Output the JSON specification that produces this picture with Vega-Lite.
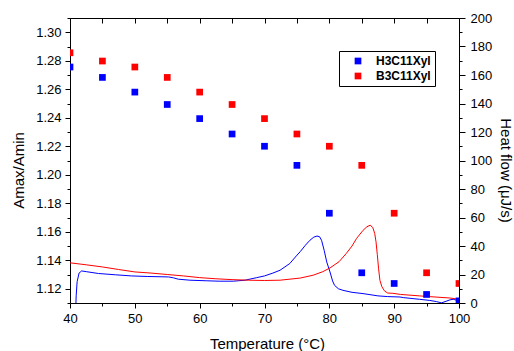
{
  "$schema": "https://vega.github.io/schema/vega-lite/v6.json",
  "width": 389,
  "height": 285,
  "autosize": {"type": "none"},
  "padding": {"left": 70, "top": 18, "right": 55, "bottom": 48},
  "background": "white",
  "datasets": {
    "pts": [
      {"T": 40, "ratio": 1.2756, "sample": "H3C11Xyl"},
      {"T": 45, "ratio": 1.2683, "sample": "H3C11Xyl"},
      {"T": 50, "ratio": 1.2580, "sample": "H3C11Xyl"},
      {"T": 55, "ratio": 1.2493, "sample": "H3C11Xyl"},
      {"T": 60, "ratio": 1.2394, "sample": "H3C11Xyl"},
      {"T": 65, "ratio": 1.2286, "sample": "H3C11Xyl"},
      {"T": 70, "ratio": 1.2200, "sample": "H3C11Xyl"},
      {"T": 75, "ratio": 1.2066, "sample": "H3C11Xyl"},
      {"T": 80, "ratio": 1.1730, "sample": "H3C11Xyl"},
      {"T": 85, "ratio": 1.1312, "sample": "H3C11Xyl"},
      {"T": 90, "ratio": 1.1237, "sample": "H3C11Xyl"},
      {"T": 95, "ratio": 1.1160, "sample": "H3C11Xyl"},
      {"T": 100, "ratio": 1.1115, "sample": "H3C11Xyl"},
      {"T": 40, "ratio": 1.2856, "sample": "B3C11Xyl"},
      {"T": 45, "ratio": 1.2798, "sample": "B3C11Xyl"},
      {"T": 50, "ratio": 1.2756, "sample": "B3C11Xyl"},
      {"T": 55, "ratio": 1.2683, "sample": "B3C11Xyl"},
      {"T": 60, "ratio": 1.2580, "sample": "B3C11Xyl"},
      {"T": 65, "ratio": 1.2493, "sample": "B3C11Xyl"},
      {"T": 70, "ratio": 1.2394, "sample": "B3C11Xyl"},
      {"T": 75, "ratio": 1.2286, "sample": "B3C11Xyl"},
      {"T": 80, "ratio": 1.2200, "sample": "B3C11Xyl"},
      {"T": 85, "ratio": 1.2066, "sample": "B3C11Xyl"},
      {"T": 90, "ratio": 1.1730, "sample": "B3C11Xyl"},
      {"T": 95, "ratio": 1.1312, "sample": "B3C11Xyl"},
      {"T": 100, "ratio": 1.1237, "sample": "B3C11Xyl"}
    ],
    "dsc": [
      {"T": 40.85, "hf": -10, "sample": "H3C11Xyl"},
      {"T": 40.95, "hf": 5, "sample": "H3C11Xyl"},
      {"T": 41.1, "hf": 15, "sample": "H3C11Xyl"},
      {"T": 41.4, "hf": 21, "sample": "H3C11Xyl"},
      {"T": 41.8, "hf": 22.5, "sample": "H3C11Xyl"},
      {"T": 42.5, "hf": 22.0, "sample": "H3C11Xyl"},
      {"T": 44.4, "hf": 20.7, "sample": "H3C11Xyl"},
      {"T": 47, "hf": 19.8, "sample": "H3C11Xyl"},
      {"T": 49.5, "hf": 19.0, "sample": "H3C11Xyl"},
      {"T": 52, "hf": 18.6, "sample": "H3C11Xyl"},
      {"T": 55.2, "hf": 18.3, "sample": "H3C11Xyl"},
      {"T": 56, "hf": 17.6, "sample": "H3C11Xyl"},
      {"T": 56.7, "hf": 16.7, "sample": "H3C11Xyl"},
      {"T": 58.5, "hf": 16.0, "sample": "H3C11Xyl"},
      {"T": 61, "hf": 15.6, "sample": "H3C11Xyl"},
      {"T": 63, "hf": 15.3, "sample": "H3C11Xyl"},
      {"T": 65.2, "hf": 15.3, "sample": "H3C11Xyl"},
      {"T": 67, "hf": 16.0, "sample": "H3C11Xyl"},
      {"T": 68.8, "hf": 17.8, "sample": "H3C11Xyl"},
      {"T": 70, "hf": 19.0, "sample": "H3C11Xyl"},
      {"T": 71.3, "hf": 21.0, "sample": "H3C11Xyl"},
      {"T": 72.4, "hf": 23.0, "sample": "H3C11Xyl"},
      {"T": 73.9, "hf": 27.7, "sample": "H3C11Xyl"},
      {"T": 74.9, "hf": 33.0, "sample": "H3C11Xyl"},
      {"T": 75.5, "hf": 36.0, "sample": "H3C11Xyl"},
      {"T": 76.3, "hf": 40.5, "sample": "H3C11Xyl"},
      {"T": 77, "hf": 44.0, "sample": "H3C11Xyl"},
      {"T": 77.6, "hf": 46.2, "sample": "H3C11Xyl"},
      {"T": 78.1, "hf": 47.0, "sample": "H3C11Xyl"},
      {"T": 78.5, "hf": 46.5, "sample": "H3C11Xyl"},
      {"T": 78.8, "hf": 44.0, "sample": "H3C11Xyl"},
      {"T": 79.2, "hf": 37.0, "sample": "H3C11Xyl"},
      {"T": 79.6, "hf": 28.8, "sample": "H3C11Xyl"},
      {"T": 80.1, "hf": 21.8, "sample": "H3C11Xyl"},
      {"T": 80.5, "hf": 15.5, "sample": "H3C11Xyl"},
      {"T": 80.8, "hf": 12.4, "sample": "H3C11Xyl"},
      {"T": 81.4, "hf": 10.0, "sample": "H3C11Xyl"},
      {"T": 82.1, "hf": 8.9, "sample": "H3C11Xyl"},
      {"T": 83.5, "hf": 7.5, "sample": "H3C11Xyl"},
      {"T": 85.2, "hf": 6.6, "sample": "H3C11Xyl"},
      {"T": 87.5, "hf": 5.0, "sample": "H3C11Xyl"},
      {"T": 89, "hf": 4.5, "sample": "H3C11Xyl"},
      {"T": 90.9, "hf": 4.2, "sample": "H3C11Xyl"},
      {"T": 91.4, "hf": 3.8, "sample": "H3C11Xyl"},
      {"T": 93.9, "hf": 2.6, "sample": "H3C11Xyl"},
      {"T": 95.5, "hf": 1.8, "sample": "H3C11Xyl"},
      {"T": 96.5, "hf": 1.0, "sample": "H3C11Xyl"},
      {"T": 97.3, "hf": 0.1, "sample": "H3C11Xyl"},
      {"T": 98, "hf": 1.2, "sample": "H3C11Xyl"},
      {"T": 98.6, "hf": 2.2, "sample": "H3C11Xyl"},
      {"T": 99.1, "hf": 2.6, "sample": "H3C11Xyl"},
      {"T": 100, "hf": 1.6, "sample": "H3C11Xyl"},
      {"T": 40, "hf": 28.2, "sample": "B3C11Xyl"},
      {"T": 42.5, "hf": 26.8, "sample": "B3C11Xyl"},
      {"T": 45, "hf": 25.3, "sample": "B3C11Xyl"},
      {"T": 47.5, "hf": 23.5, "sample": "B3C11Xyl"},
      {"T": 50, "hf": 21.8, "sample": "B3C11Xyl"},
      {"T": 52.5, "hf": 21.0, "sample": "B3C11Xyl"},
      {"T": 55, "hf": 20.0, "sample": "B3C11Xyl"},
      {"T": 57.5, "hf": 19.0, "sample": "B3C11Xyl"},
      {"T": 60, "hf": 17.8, "sample": "B3C11Xyl"},
      {"T": 62.5, "hf": 17.0, "sample": "B3C11Xyl"},
      {"T": 65, "hf": 16.4, "sample": "B3C11Xyl"},
      {"T": 67.5, "hf": 16.0, "sample": "B3C11Xyl"},
      {"T": 70, "hf": 15.8, "sample": "B3C11Xyl"},
      {"T": 72.4, "hf": 16.0, "sample": "B3C11Xyl"},
      {"T": 75.5, "hf": 17.5, "sample": "B3C11Xyl"},
      {"T": 77.5, "hf": 19.5, "sample": "B3C11Xyl"},
      {"T": 79, "hf": 22.0, "sample": "B3C11Xyl"},
      {"T": 80.1, "hf": 24.6, "sample": "B3C11Xyl"},
      {"T": 81.5, "hf": 29.0, "sample": "B3C11Xyl"},
      {"T": 82.6, "hf": 34.7, "sample": "B3C11Xyl"},
      {"T": 83.5, "hf": 40.0, "sample": "B3C11Xyl"},
      {"T": 84.2, "hf": 45.3, "sample": "B3C11Xyl"},
      {"T": 85.2, "hf": 51.0, "sample": "B3C11Xyl"},
      {"T": 85.8, "hf": 53.5, "sample": "B3C11Xyl"},
      {"T": 86.3, "hf": 54.6, "sample": "B3C11Xyl"},
      {"T": 86.7, "hf": 53.0, "sample": "B3C11Xyl"},
      {"T": 87, "hf": 48.8, "sample": "B3C11Xyl"},
      {"T": 87.2, "hf": 43.0, "sample": "B3C11Xyl"},
      {"T": 87.4, "hf": 34.0, "sample": "B3C11Xyl"},
      {"T": 87.6, "hf": 24.0, "sample": "B3C11Xyl"},
      {"T": 87.8, "hf": 16.0, "sample": "B3C11Xyl"},
      {"T": 88.1, "hf": 11.5, "sample": "B3C11Xyl"},
      {"T": 88.5, "hf": 8.5, "sample": "B3C11Xyl"},
      {"T": 89, "hf": 7.0, "sample": "B3C11Xyl"},
      {"T": 89.8, "hf": 6.8, "sample": "B3C11Xyl"},
      {"T": 91, "hf": 6.0, "sample": "B3C11Xyl"},
      {"T": 93.9, "hf": 5.0, "sample": "B3C11Xyl"},
      {"T": 96, "hf": 4.3, "sample": "B3C11Xyl"},
      {"T": 98.6, "hf": 3.5, "sample": "B3C11Xyl"},
      {"T": 100, "hf": 2.6, "sample": "B3C11Xyl"}
    ]
  },
  "layer": [
    {
      "data": {"name": "dsc"},
      "mark": {"type": "line", "clip": true, "strokeWidth": 1},
      "encoding": {
        "x": {
          "field": "T", "type": "quantitative",
          "scale": {"domain": [40, 100], "nice": false, "zero": false},
          "axis": {
            "orient": "top", "title": null, "labels": false,
            "values": [40, 45, 50, 55, 60, 65, 70, 75, 80, 85, 90, 95, 100],
            "tickSize": -5
          }
        },
        "y": {
          "field": "hf", "type": "quantitative",
          "scale": {"domain": [0, 200], "nice": false, "zero": false},
          "axis": {
            "orient": "right", "title": "Heat flow (μJ/s)",
            "values": [0, 10, 20, 30, 40, 50, 60, 70, 80, 90, 100, 110, 120, 130, 140, 150, 160, 170, 180, 190, 200],
            "labelExpr": "round(datum.value) % 20 == 0 ? format(datum.value, 'd') : ''",
            "tickSize": {"condition": {"test": "round(datum.value) % 20 == 0", "value": 6}, "value": 3},
            "labelPadding": 5,
            "titleX": 41, "titleY": 152, "titleBaseline": "alphabetic", "titleAngle": 90
          }
        },
        "detail": {"field": "sample"},
        "stroke": {
          "field": "sample", "type": "nominal",
          "scale": {"domain": ["H3C11Xyl", "B3C11Xyl"], "range": ["#0000ff", "#ff0000"]},
          "legend": null
        }
      }
    },
    {
      "data": {"name": "pts"},
      "mark": {"type": "square", "clip": true, "filled": true, "opacity": 1, "size": 45},
      "encoding": {
        "x": {
          "field": "T", "type": "quantitative",
          "scale": {"domain": [40, 100], "nice": false, "zero": false},
          "axis": {
            "orient": "bottom", "title": "Temperature (°C)",
            "values": [40, 45, 50, 55, 60, 65, 70, 75, 80, 85, 90, 95, 100],
            "labelExpr": "round(datum.value) % 10 == 0 ? format(datum.value, 'd') : ''",
            "tickSize": {"condition": {"test": "round(datum.value) % 10 == 0", "value": 5}, "value": 3},
            "labelPadding": 4, "labelFlush": false,
            "titleX": 197, "titleY": 45, "titleBaseline": "alphabetic"
          }
        },
        "y": {
          "field": "ratio", "type": "quantitative",
          "scale": {"domain": [1.11, 1.31], "nice": false, "zero": false},
          "axis": {
            "orient": "left", "title": "Amax/Amin",
            "values": [1.11, 1.12, 1.13, 1.14, 1.15, 1.16, 1.17, 1.18, 1.19, 1.2, 1.21, 1.22, 1.23, 1.24, 1.25, 1.26, 1.27, 1.28, 1.29, 1.3, 1.31],
            "labelExpr": "round(datum.value * 100) % 2 == 0 && datum.value < 1.305 ? format(datum.value, '.2f') : ''",
            "tickSize": {"condition": {"test": "round(datum.value * 100) % 2 == 0", "value": 5}, "value": 3},
            "labelPadding": 4,
            "titleX": -47, "titleY": 152, "titleBaseline": "alphabetic", "titleAngle": -90
          }
        },
        "color": {
          "field": "sample", "type": "nominal",
          "scale": {"domain": ["H3C11Xyl", "B3C11Xyl"], "range": ["#0000ff", "#ff0000"]},
          "legend": {
            "title": null, "orient": "none", "legendX": 269, "legendY": 33,
            "symbolType": "square", "symbolSize": 45, "symbolStrokeWidth": 0, "symbolOpacity": 1,
            "labelFont": "Liberation Sans", "labelFontSize": 12, "labelFontWeight": "bold", "labelColor": "black",
            "strokeColor": "black", "padding": 4, "symbolOffset": 9, "labelOffset": 12, "rowPadding": 3,
            "fillColor": "white"
          }
        }
      }
    }
  ],
  "resolve": {"scale": {"x": "independent", "y": "independent", "color": "independent"}},
  "config": {
    "view": {"stroke": null},
    "axis": {
      "grid": false,
      "labelFont": "Liberation Sans", "titleFont": "Liberation Sans",
      "labelFontSize": 13, "titleFontSize": 15, "titleFontWeight": "normal",
      "labelColor": "black", "titleColor": "black",
      "domainColor": "black", "tickColor": "black", "domainWidth": 1, "tickWidth": 1,
      "labelOverlap": false, "labelBound": false
    }
  }
}
